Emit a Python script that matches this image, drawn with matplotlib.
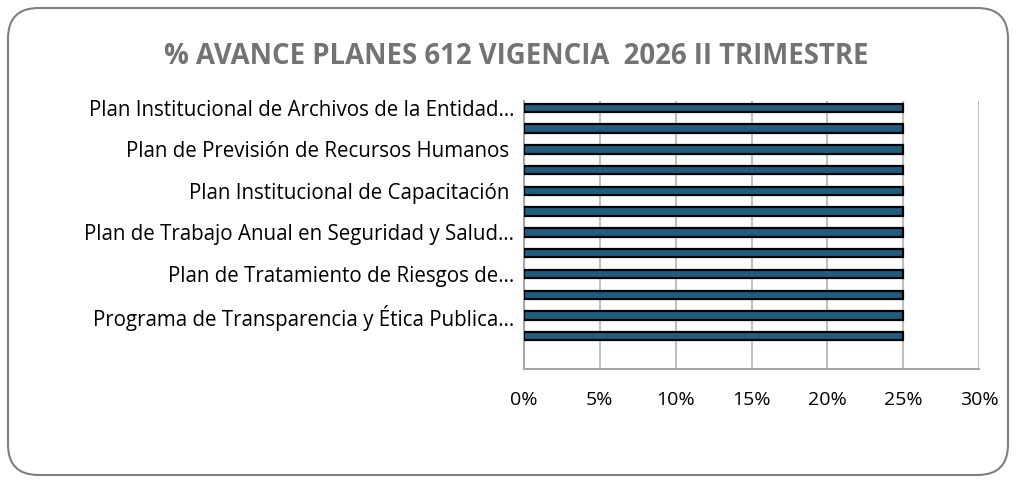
import matplotlib
matplotlib.use("Agg")
import matplotlib.pyplot as plt
from matplotlib.patches import FancyBboxPatch
from matplotlib.ticker import PercentFormatter

title = "% AVANCE PLANES 612 VIGENCIA  2026 II TRIMESTRE"
categories = [
    "Plan Institucional de Archivos de la Entidad…",
    "",
    "Plan de Previsión de Recursos Humanos ",
    "",
    "Plan Institucional de Capacitación ",
    "",
    "Plan de Trabajo Anual en Seguridad y Salud…",
    "",
    "Plan de Tratamiento de Riesgos de…",
    "",
    "Programa de Transparencia y Ética Publica…",
    "",
]
values = [0.25] * 12
xticks = [0, 0.05, 0.10, 0.15, 0.20, 0.25, 0.30]

plt.rcParams['font.family'] = ['Open Sans', 'DejaVu Sans']

fig = plt.figure(figsize=(10.16, 4.83), dpi=100)
W, H = 1016, 483

# rounded border
border = FancyBboxPatch((8 / W, 8 / H), (1000) / W, (467) / H,
                        boxstyle="round,pad=0,rounding_size=0.03",
                        transform=fig.transFigure, facecolor='none',
                        edgecolor='#7f7f7f', linewidth=1.5, mutation_aspect=W / H,
                        zorder=-1)
fig.patches.append(border)

ax = fig.add_axes([524 / W, 1 - 369 / H, (979 - 524) / W, (369 - 101) / H])
ax.set_facecolor('none')
pos = list(range(len(categories)))
ax.barh(pos, values, height=0.4, color='#1b5e80', edgecolor='black', linewidth=1.6, zorder=3)
ax.set_ylim(12.58, -0.33)
ax.set_xlim(0, 0.30)
ax.set_xticks(xticks)
ax.xaxis.set_major_formatter(PercentFormatter(1.0, decimals=0))
ax.set_yticks(pos)
ax.set_yticklabels(categories)
ax.tick_params(axis='both', length=0, colors='black')
ax.tick_params(axis='y', pad=7, labelsize=14.8)
ax.tick_params(axis='x', pad=16, labelsize=14)
ax.grid(axis='x', color='#bfbfbf', linewidth=1.5, zorder=0)
for s in ['top', 'right']:
    ax.spines[s].set_visible(False)
for s in ['left', 'bottom']:
    ax.spines[s].set_color('#a6a6a6')
    ax.spines[s].set_linewidth(1.5)

fig.text(516 / W, 1 - 56 / H, title, ha='center', va='center',
         fontsize=19.8, fontweight='bold', color='#737373')

fig.savefig('out.png', dpi=100)
